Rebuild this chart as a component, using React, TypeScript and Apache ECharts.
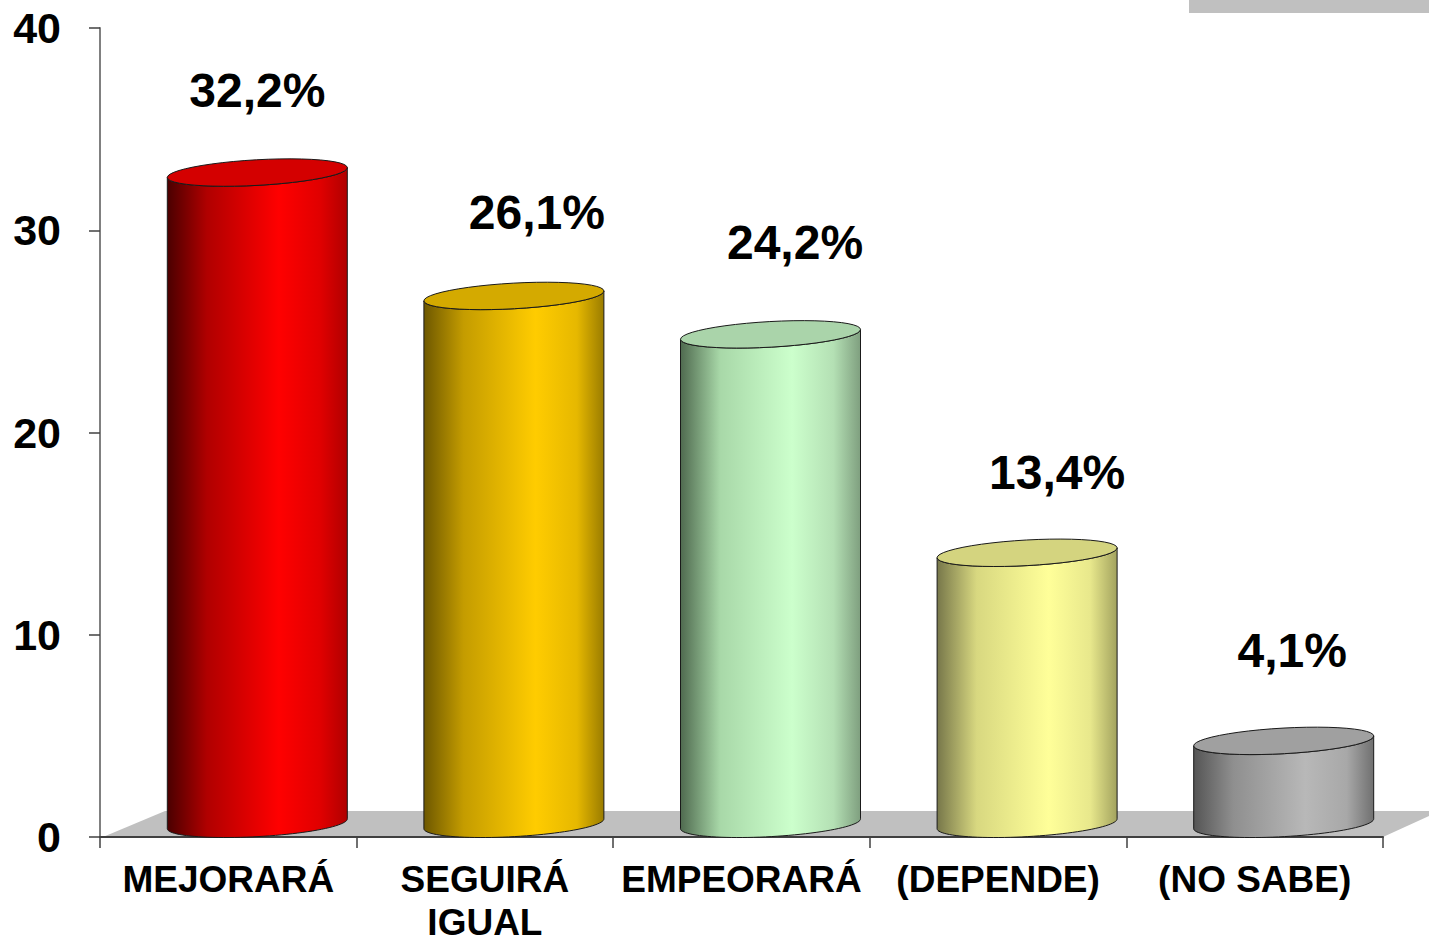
import React, { useEffect, useRef } from "react";
import * as echarts from "echarts";

const categories = ["MEJORARÁ", "SEGUIRÁ\nIGUAL", "EMPEORARÁ", "(DEPENDE)", "(NO SABE)"];
const values = [32.2, 26.1, 24.2, 13.4, 4.1];
const valueLabels = ["32,2%", "26,1%", "24,2%", "13,4%", "4,1%"];
const yTicks = { min: 0, max: 40, interval: 10 };

// Per-bar appearance, separate from the data
const sideStops = [
  ["#4a0000", "#b00000", "#ff0000", "#e00000", "#b00000"],
  ["#6e5800", "#c49c00", "#ffcc00", "#e6b800", "#9a7c00"],
  ["#4f6a4f", "#a8d8a8", "#ccffcc", "#b4e0b4", "#7f9f7f"],
  ["#77774a", "#d8d880", "#ffff99", "#e8e88c", "#a3a35f"],
  ["#555555", "#8f8f8f", "#b8b8b8", "#a8a8a8", "#707070"],
];
const topColors = ["#d40000", "#d4aa00", "#aad4aa", "#d4d47f", "#a0a0a0"];
// Hand-placed label offsets from (band centre, value position)
const labelShift = [
  [29, -95],
  [52, -97],
  [53.5, -105],
  [59, -93.5],
  [37.5, -103.5],
];
const FONT = '"Liberation Sans", Arial, sans-serif';
const RX = 90;
const TILT = 5;
const RY = 12.8;
const DX = 29;
const DY = 13.2;
const STEPS = 48;

function ellipseArc(cx: number, cy: number, from: number, to: number) {
  const a = Math.sqrt(RX * RX + TILT * TILT);
  const phi = -Math.atan2(TILT, RX);
  const pts: number[][] = [];
  for (let k = 0; k <= STEPS; k++) {
    const t = from + ((to - from) * k) / STEPS;
    const ex = a * Math.cos(t);
    const ey = RY * Math.sin(t);
    pts.push([
      cx + ex * Math.cos(phi) - ey * Math.sin(phi),
      cy + ex * Math.sin(phi) + ey * Math.cos(phi),
    ]);
  }
  return pts;
}

function renderItem(params: any, api: any) {
  const i = api.value(0);
  const v = api.value(1);
  const [bx, by] = api.coord([i, v]);
  const y0 = api.coord([i, 0])[1];
  const cx = bx + DX;
  const cyTop = by - DY;
  const cyBot = y0 - DY;
  const body = [
    ...ellipseArc(cx, cyTop, Math.PI, 0),
    ...ellipseArc(cx, cyBot, 0, Math.PI),
  ];
  const top = ellipseArc(cx, cyTop, 0, 2 * Math.PI);
  const s = sideStops[i];
  const offs = [0, 0.22, 0.62, 0.85, 1];
  return {
    type: "group",
    children: [
      {
        type: "polygon",
        shape: { points: body },
        style: {
          fill: {
            type: "linear",
            x: 0,
            y: 0,
            x2: 1,
            y2: 0,
            colorStops: s.map((color, k) => ({ offset: offs[k], color })),
          },
          stroke: "#1a1a1a",
          lineWidth: 1,
        },
      },
      {
        type: "polygon",
        shape: { points: top },
        style: { fill: topColors[i], stroke: "#1a1a1a", lineWidth: 1 },
      },
      {
        type: "text",
        x: bx + labelShift[i][0],
        y: by + labelShift[i][1],
        style: {
          text: valueLabels[i],
          fill: "#000",
          font: `bold 48px ${FONT}`,
          align: "center",
          verticalAlign: "middle",
        },
      },
    ],
  };
}

export default function App() {
  const ref = useRef<HTMLDivElement>(null);
  useEffect(() => {
    document.body.style.margin = "0";
    document.body.style.overflow = "hidden";
    const chart = echarts.init(ref.current!, null, { renderer: "svg" });
    chart.setOption({
      animation: false,
      backgroundColor: "#fff",
      grid: { left: 100, right: 46, top: 28, bottom: 100, outerBoundsMode: "none" },
      graphic: [
        {
          type: "polygon",
          z: -1,
          shape: { points: [[103, 837], [165, 811], [1429, 811], [1429, 816], [1383, 837]] },
          style: { fill: "#c0c0c0" },
        },
        {
          type: "rect",
          z: -1,
          shape: { x: 1189, y: 0, width: 240, height: 13 },
          style: { fill: "#c0c0c0" },
        },
      ],
      xAxis: {
        type: "category",
        data: categories,
        axisLine: { lineStyle: { color: "#404040", width: 2 } },
        axisTick: { show: true, length: 11, alignWithLabel: false, lineStyle: { color: "#404040", width: 1.5 } },
        axisLabel: {
          interval: 0,
          color: "#000",
          fontFamily: FONT,
          fontWeight: "bold",
          fontSize: 37,
          lineHeight: 43,
          margin: 21,
        },
      },
      yAxis: {
        type: "value",
        min: yTicks.min,
        max: yTicks.max,
        interval: yTicks.interval,
        splitLine: { show: false },
        axisLine: { show: true, lineStyle: { color: "#808080", width: 2 } },
        axisTick: { show: true, length: 11, lineStyle: { color: "#404040", width: 1.5 } },
        axisLabel: {
          color: "#000",
          fontFamily: FONT,
          fontWeight: "bold",
          fontSize: 43,
          margin: 39,
          padding: [0, 0, 2, 0],
        },
      },
      series: [
        {
          type: "custom",
          renderItem,
          clip: false,
          data: values.map((v, i) => [i, v]),
          encode: { x: 0, y: 1 },
          z: 5,
        },
      ],
    });
    return () => chart.dispose();
  }, []);
  return <div ref={ref} style={{ width: 1429, height: 937 }} />;
}
